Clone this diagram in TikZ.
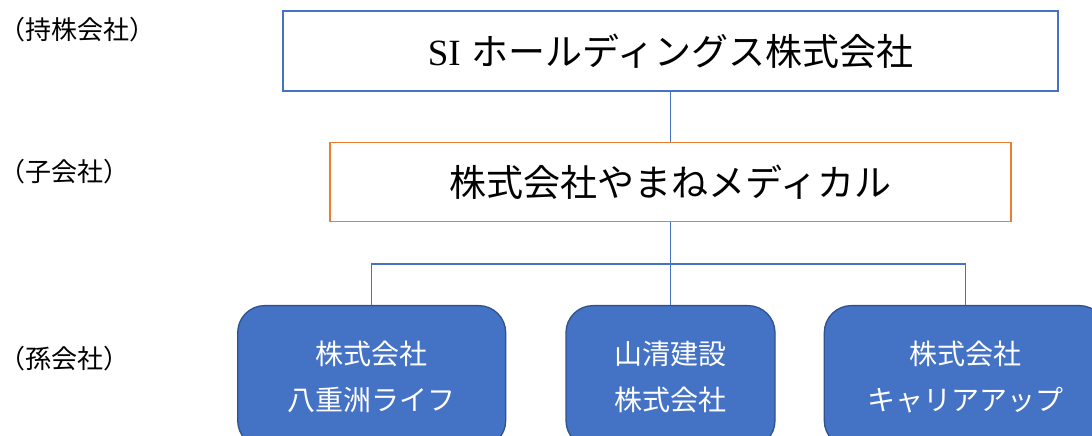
\documentclass[tikz,border=0pt]{standalone}
\usepackage{fontspec}
\newfontfamily\jp{Noto Sans CJK JP}
\newfontfamily\latin{Liberation Serif}
\usetikzlibrary{positioning}
\definecolor{orgblue}{HTML}{4472C4}
\definecolor{orgorange}{HTML}{ED7D31}
\definecolor{orgedge}{HTML}{2F528F}

\begin{document}
\begin{tikzpicture}[x=1pt,y=-1pt,
    holding/.style={draw=orgblue,line width=1.3pt,minimum width=775pt,minimum height=80pt,
      font=\fontsize{37}{44}\selectfont},
    subsid/.style={draw=orgorange,line width=1.3pt,minimum width=681pt,minimum height=79pt,
      font=\jp\fontsize{37}{44}\selectfont},
    grand/.style={draw=orgedge,line width=1.3pt,fill=orgblue,rounded corners=27pt,
      minimum height=142pt,text=white,align=center,font=\jp\fontsize{28}{46}\selectfont},
    level/.style={anchor=west,font=\jp\fontsize{26}{30}\selectfont},
    link/.style={draw=orgblue,line width=1.2pt}]
  \useasboundingbox (0,0) rectangle (1092,436);
  \clip (0,0) rectangle (1092,436);
  \node[holding]                          (hold) at (670.5,51)  {{\latin SI} {\jp ホールディングス株式会社}};
  \node[subsid]  [below=50pt of hold]     (sub)                 {株式会社やまねメディカル};
  \node[grand,minimum width=209pt] [below=83pt of sub] (g2)     {山清建設\\株式会社};
  \node[grand,minimum width=268pt] [left=59pt of g2]   (g1)     {株式会社\\八重洲ライフ};
  \node[grand,minimum width=282pt] [right=48pt of g2]  (g3)     {株式会社\\キャリアアップ};
  % levels
  \node[level] (l1) at (-4,30)  {（持株会社）};
  \node[level] (l2) at (-4,172) {（子会社）};
  \node[level] (l3) at (-4,359) {（孫会社）};
  % lines
  \path[link] (hold.south) -- (sub.north);
  \path[link] (sub.south) -- ++(0,42) coordinate (bus);
  \path[link] (g1.north) |- (bus) -| (g3.north);
  \path[link] (g2.north) -- (g2.north |- bus);
\end{tikzpicture}
\end{document}
